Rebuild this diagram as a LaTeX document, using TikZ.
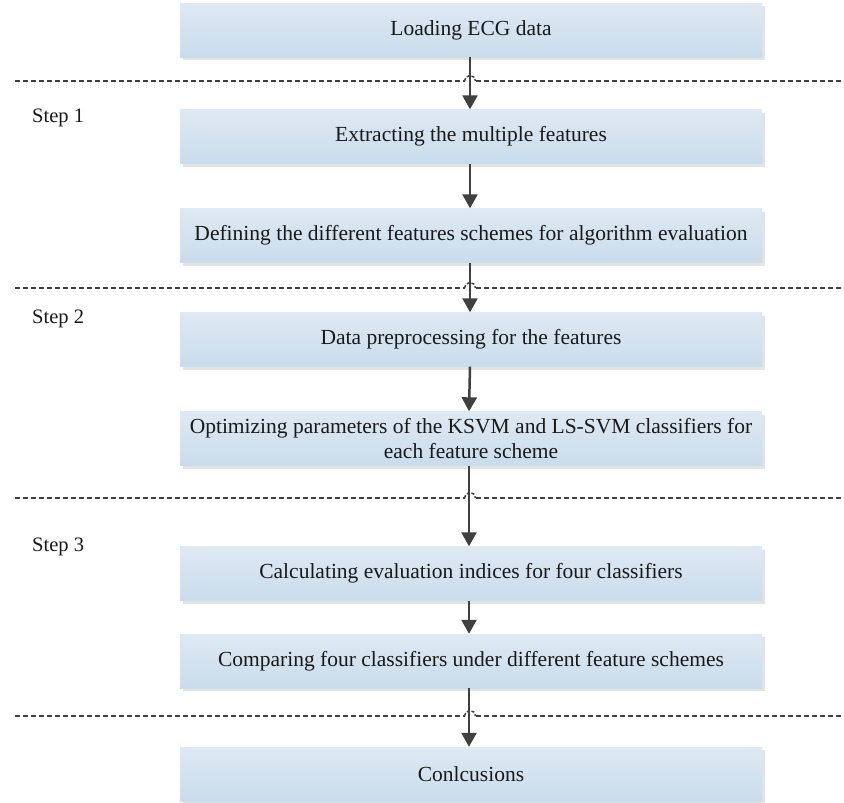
\documentclass[tikz,border=0pt]{standalone}
\usepackage{fontspec}
\setmainfont{Liberation Serif}
\usetikzlibrary{arrows.meta,shadows}
\definecolor{boxtop}{HTML}{DFE9F3}
\definecolor{boxbot}{HTML}{C9DCEC}
\definecolor{shadowgray}{HTML}{E3E3E3}
\definecolor{linegray}{HTML}{404040}
\tikzset{
  stepbox/.style={minimum width=582pt, minimum height=54pt, inner sep=0pt,
    top color=boxtop, bottom color=boxbot, draw=none, align=center,
    font=\fontsize{21.5}{25}\selectfont, text=black!90,
    drop shadow={shadow xshift=3pt, shadow yshift=-3pt, fill=shadowgray, opacity=1}},
  flow/.style={draw=linegray, line width=2.5pt, -{Triangle[width=15pt,length=14pt]}},
  divider/.style={draw=linegray, line width=2.3pt, dash pattern=on 5pt off 3pt},
  hop/.style={draw=linegray, line width=1.5pt, dash pattern=on 3pt off 2pt},
  steplabel/.style={font=\fontsize{20.5}{25}\selectfont, anchor=west, inner sep=0pt, text=black!90}
}
\begin{document}
\begin{tikzpicture}[x=1pt,y=-1pt]
\useasboundingbox (0,0) rectangle (844,803);

% dividers with line hops
\foreach \yy in {81,288,498,716}{
  \draw[divider] (15,\yy) -- (464.5,\yy);
  \draw[divider] (475.5,\yy) -- (844,\yy);
  \draw[hop] (464.5,\yy) arc[start angle=180,end angle=360,radius=5.5];
}

\node[stepbox] (b1) at (471,30) {Loading ECG data};
\node[stepbox] (b2) at (471,136.5) {Extracting the multiple features};
\node[stepbox] (b3) at (471,235.5) {Defining the different features schemes for algorithm evaluation};
\node[stepbox] (b4) at (471,339.5) {Data preprocessing for the features};
\node[stepbox] (b5) at (471,438.5) {Optimizing parameters of the KSVM and LS-SVM classifiers for\\each feature scheme};
\node[stepbox] (b6) at (471,573.5) {Calculating evaluation indices for four classifiers};
\node[stepbox] (b7) at (471,661) {Comparing four classifiers under different feature schemes};
\node[stepbox] (b8) at (471,774) {Conlcusions};

\node[steplabel] (s1) at (32,118) {Step 1};
\node[steplabel] (s2) at (32,319) {Step 2};
\node[steplabel] (s3) at (32,547) {Step 3};

\draw[flow] ([xshift=-1pt]b1.south) -- ([xshift=-1pt]b2.north);
\draw[flow] ([xshift=-1pt]b2.south) -- ([xshift=-1pt]b3.north);
\draw[flow] ([xshift=-1pt]b3.south) -- ([xshift=-1pt]b4.north);
\draw[flow] ([xshift=-1pt]b4.south) -- ([xshift=-2pt]b5.north);
\draw[flow] ([xshift=-2pt]b5.south) -- ([xshift=-2pt]b6.north);
\draw[flow] ([xshift=-2pt]b6.south) -- ([xshift=-2pt]b7.north);
\draw[flow] ([xshift=-2pt]b7.south) -- ([xshift=-2pt]b8.north);
\end{tikzpicture}
\end{document}
